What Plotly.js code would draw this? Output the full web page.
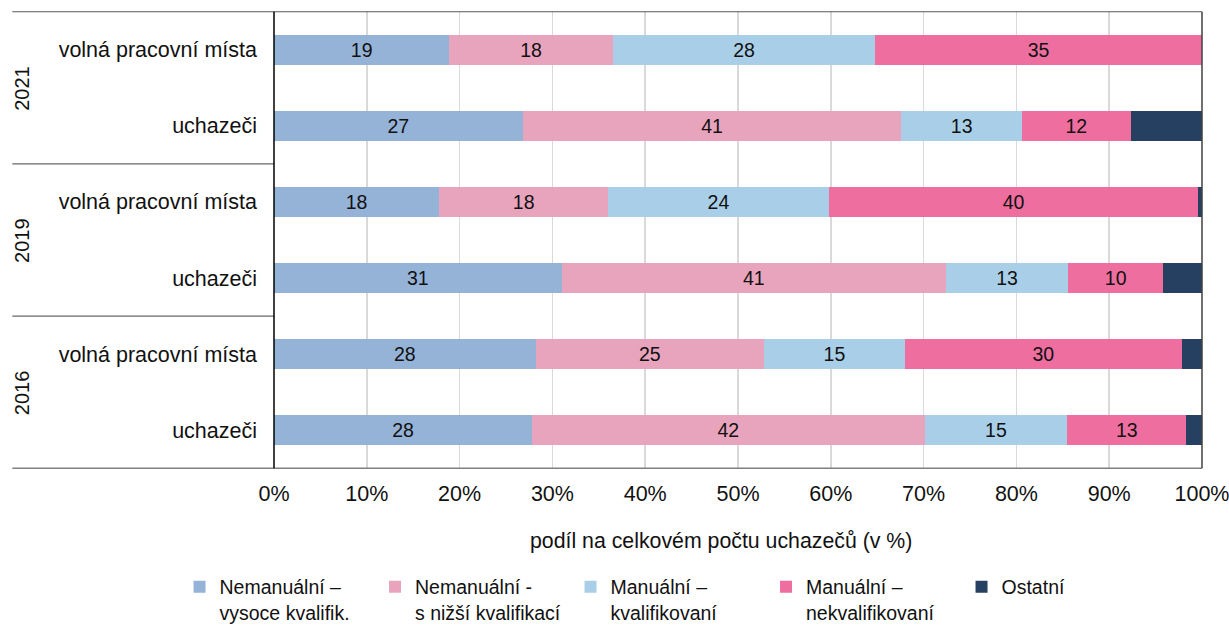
<!DOCTYPE html>
<html>
<head>
<meta charset="utf-8">
<script src="https://cdn.plot.ly/plotly-3.0.1.min.js"></script>
<style>html,body{margin:0;padding:0;background:#fff;}#chart{width:1229px;height:626px;}</style>
</head>
<body>
<div id="chart"></div>
<script>
// Rows, top to bottom
const rowIds = ["2021v", "2021u", "2019v", "2019u", "2016v", "2016u"];
const rowLabels = ["volná pracovní místa", "uchazeči", "volná pracovní místa", "uchazeči", "volná pracovní místa", "uchazeči"];
const years = ["2021", "2019", "2016"];

const seriesNames = [
  "Nemanuální –<br>vysoce kvalifik.",
  "Nemanuální -<br>s nižší kvalifikací",
  "Manuální –<br>kvalifikovaní",
  "Manuální –<br>nekvalifikovaní",
  "Ostatní"
];
const nemanVysoce  = [18.9, 26.8, 17.8, 31.0, 28.2, 27.8];
const nemanNizsi   = [17.6, 40.8, 18.2, 41.4, 24.6, 42.3];
const manKval      = [28.3, 13.0, 23.8, 13.2, 15.2, 15.4];
const manNekval    = [35.2, 11.7, 39.8, 10.2, 29.8, 12.8];
const ostatni      = [0.0, 7.7, 0.4, 4.2, 2.2, 1.7];

const xTickVals = [0, 10, 20, 30, 40, 50, 60, 70, 80, 90, 100];
const xTickText = ["0%", "10%", "20%", "30%", "40%", "50%", "60%", "70%", "80%", "90%", "100%"];

const colors = ["#95b3d7", "#e8a3bd", "#a9cfe8", "#ee6ea0", "#254061"];
const series = [nemanVysoce, nemanNizsi, manKval, manNekval, ostatni];
const FONT = "Liberation Sans, Arial, sans-serif";
const TXT = "#111111";

const traces = series.map((vals, i) => ({
  type: "bar",
  orientation: "h",
  name: seriesNames[i],
  y: rowIds,
  x: vals,
  marker: {color: colors[i], line: {width: 0}},
  texttemplate: i < 4 ? "%{x:.0f}" : "",
  textposition: i < 4 ? "inside" : "none",
  insidetextanchor: "middle",
  textangle: 0,
  constraintext: "none",
  textfont: {family: FONT, size: 19.5, color: TXT},
  hoverinfo: "x+name"
}));

const shapes = [
  {type: "line", xref: "paper", yref: "y", x0: -0.282, x1: 1, y0: -0.5, y1: -0.5, line: {color: "#595959", width: 1}},
  {type: "line", xref: "paper", yref: "y", x0: -0.282, x1: 1, y0: 5.5, y1: 5.5, line: {color: "#808080", width: 1.5}},
  {type: "line", xref: "paper", yref: "y", x0: -0.282, x1: 0, y0: 1.5, y1: 1.5, line: {color: "#404040", width: 1}},
  {type: "line", xref: "paper", yref: "y", x0: -0.282, x1: 0, y0: 3.5, y1: 3.5, line: {color: "#404040", width: 1}},
  {type: "line", xref: "paper", yref: "y", x0: 1, x1: 1, y0: -0.5, y1: 5.5, line: {color: "#404040", width: 1.5}},
  {type: "line", xref: "paper", yref: "y", x0: 0, x1: 0, y0: -0.5, y1: 5.5, line: {color: "#000000", width: 1.5}}
];

const annotations = years.map((yr, i) => ({
  xref: "paper", yref: "y", x: -0.2716, y: 2 * i + 0.5,
  text: yr, showarrow: false, textangle: -90,
  font: {family: FONT, size: 20, color: TXT},
  xanchor: "center", yanchor: "middle"
}));
annotations.push({
  xref: "paper", yref: "paper", x: 0.4817, y: -0.157,
  text: "podíl na celkovém počtu uchazečů (v %)", showarrow: false,
  font: {family: FONT, size: 21.3, color: TXT},
  xanchor: "center", yanchor: "middle"
});

const layout = {
  width: 1229, height: 626,
  margin: {l: 274, r: 27, t: 11, b: 157, autoexpand: false},
  paper_bgcolor: "#ffffff", plot_bgcolor: "#ffffff",
  barmode: "stack",
  bargap: 0.607,
  showlegend: true,
  font: {family: FONT, size: 21, color: TXT},
  xaxis: {
    range: [0, 100], tickvals: xTickVals, ticktext: xTickText,
    showgrid: true, gridcolor: "#d9d9d9", gridwidth: 1.6,
    zeroline: false, showline: false, ticks: "",
    ticklabelstandoff: 9,
    ticklabeloverflow: "allow",
    tickfont: {family: FONT, size: 21.5, color: TXT},
    fixedrange: true
  },
  yaxis: {
    type: "category", autorange: "reversed",
    tickvals: rowIds, ticktext: rowLabels,
    showgrid: false, zeroline: false, showline: false, ticks: "",
    ticklabelstandoff: 16,
    ticklabeloverflow: "allow",
    tickfont: {family: FONT, size: 21.5, color: TXT},
    fixedrange: true
  },
  legend: {
    orientation: "h", x: -0.1018, xanchor: "left", y: -0.2155, yanchor: "top",
    valign: "top", traceorder: "normal",
    entrywidth: 150.5, entrywidthmode: "pixels",
    font: {family: FONT, size: 19.5, color: TXT},
    itemclick: false, itemdoubleclick: false
  },
  shapes: shapes,
  annotations: annotations
};

Plotly.newPlot("chart", traces, layout, {displayModeBar: false, staticPlot: true});
</script>
</body>
</html>
